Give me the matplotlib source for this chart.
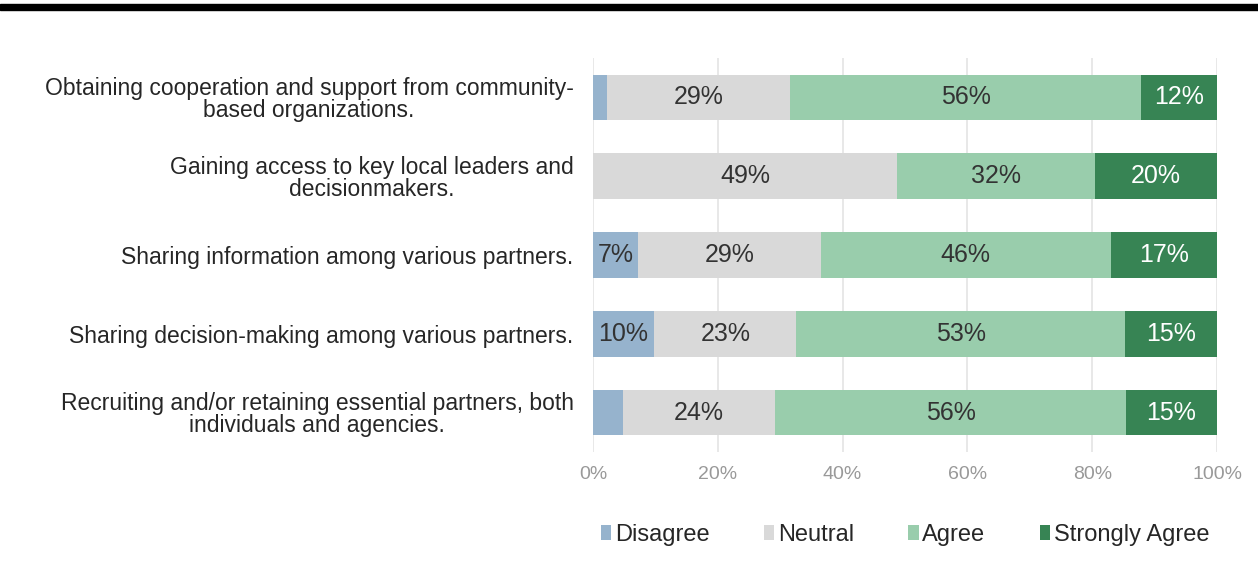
import matplotlib
matplotlib.use("Agg")
import matplotlib.pyplot as plt
import numpy as np

plt.rcParams['font.family'] = ['Liberation Sans', 'DejaVu Sans']

# survey items (top to bottom)
items = [
    "Obtaining cooperation and support from community-\nbased organizations.",
    "Gaining access to key local leaders and\ndecisionmakers.",
    "Sharing information among various partners.",
    "Sharing decision-making among various partners.",
    "Recruiting and/or retaining essential partners, both\nindividuals and agencies.",
]

# share of responses (%)
disagree = [2.2, 0.0, 7.2, 9.8, 4.8]
neutral = [29.4, 48.7, 29.3, 22.8, 24.4]
agree = [56.2, 31.7, 46.5, 52.6, 56.2]
strongly_agree = [12.2, 19.6, 17.0, 14.8, 14.6]

series = ["Disagree", "Neutral", "Agree", "Strongly Agree"]
colors = ["#96b3cd", "#d9d9d9", "#99cdac", "#378454"]
text_colors = ["#333333", "#333333", "#333333", "white"]

fig = plt.figure(figsize=(12.58, 5.78), dpi=100)
ax = fig.add_axes([593 / 1258, 1 - 452 / 578, 624 / 1258, 394 / 578])

# black band at the top of the figure
fig.patches.append(plt.Rectangle((0, 1 - 10 / 578), 1, 6 / 578, transform=fig.transFigure,
                                 color="black", zorder=5))

ypos = np.arange(len(items))
left = np.zeros(len(items))
for name, vals, col, tcol in zip(series, [disagree, neutral, agree, strongly_agree], colors, text_colors):
    vals = np.array(vals)
    ax.barh(ypos, vals, left=left, height=0.58, color=col, label=name, zorder=2)
    for y, v, l in zip(ypos, vals, left):
        if v >= 6:
            ax.text(l + v / 2, y, f"{round(v):.0f}%", ha="center", va="center",
                    fontsize=18, color=tcol, zorder=3)
    left += vals

ax.set_xlim(0, 100)
ax.set_ylim(len(items) - 0.5, -0.5)
ax.set_xticks(np.arange(0, 101, 20))
ax.set_xticklabels([f"{t}%" for t in range(0, 101, 20)], color="#999999", fontsize=14)
ax.set_yticks(ypos)
ax.set_yticklabels(items, fontsize=16.5, color="#262626", ha="right", multialignment="center",
                   linespacing=0.95)
ax.tick_params(axis="y", length=0, pad=14)
ax.tick_params(axis="x", length=0, pad=10)
ax.grid(axis="x", color="#e4e4e4", linewidth=1.2, zorder=0)
for s in ax.spines.values():
    s.set_visible(False)

leg = fig.legend(loc="center", bbox_to_anchor=(905 / 1258, 1 - 535 / 578), ncol=4, frameon=False,
                 fontsize=17, handlelength=0.45, handleheight=0.6, handletextpad=0.15,
                 columnspacing=2.3)
for t in leg.get_texts():
    t.set_color("#262626")

fig.savefig("out.png", dpi=100)
